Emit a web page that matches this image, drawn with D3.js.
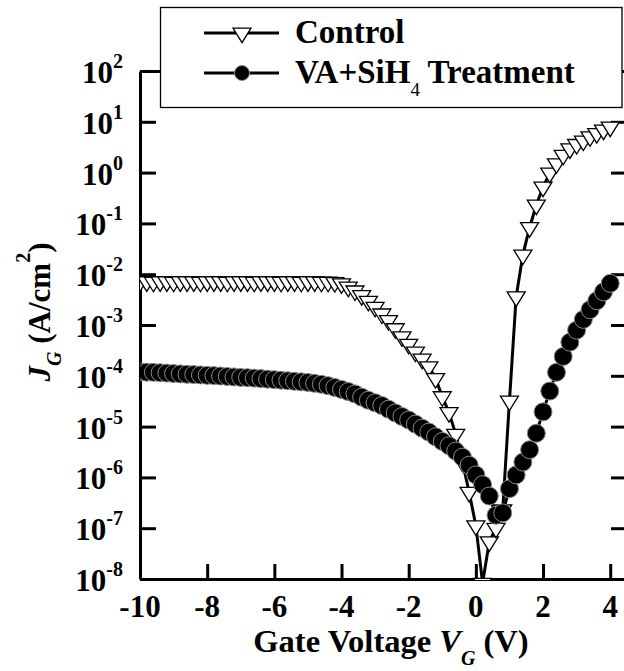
<!DOCTYPE html>
<html>
<head>
<meta charset="utf-8">
<script src="https://cdn.jsdelivr.net/npm/d3@7"></script>
<style>
  body { margin: 0; background: #fff; }
  svg text { font-family: "Liberation Serif", "Tinos", "Times New Roman", Times, serif; font-weight: bold; fill: #000; }
</style>
</head>
<body>
<svg id="chart" width="624" height="671"></svg>
<script>
// Gate voltage sweep (V)
const voltage = [
  -10, -9.8, -9.6, -9.4, -9.2, -9, -8.8, -8.6, -8.4, -8.2,
  -8, -7.8, -7.6, -7.4, -7.2, -7, -6.8, -6.6, -6.4, -6.2,
  -6, -5.8, -5.6, -5.4, -5.2, -5, -4.8, -4.6, -4.4, -4.2,
  -4, -3.8, -3.6, -3.4, -3.2, -3, -2.8, -2.6, -2.4, -2.2,
  -2, -1.8, -1.6, -1.4, -1.2, -1, -0.8, -0.6, -0.4, -0.2,
  0, 0.2, 0.4, 0.6, 0.8, 1, 1.2, 1.4, 1.6, 1.8,
  2, 2.2, 2.4, 2.6, 2.8, 3, 3.2, 3.4, 3.6, 3.8, 4
];

// Gate leakage current density (A/cm^2), control sample
const controlJ = [
  7.1e-3, 7.1e-3, 7.0e-3, 7.1e-3, 7.1e-3, 7.0e-3, 7.1e-3, 7.1e-3, 7.1e-3, 7.0e-3,
  7.1e-3, 7.1e-3, 7.1e-3, 7.0e-3, 7.1e-3, 7.1e-3, 7.1e-3, 7.0e-3, 7.1e-3, 7.1e-3,
  7.1e-3, 7.0e-3, 7.1e-3, 7.1e-3, 7.0e-3, 7.1e-3, 7.1e-3, 7.0e-3, 7.0e-3, 6.9e-3,
  6.5e-3, 5.6e-3, 4.7e-3, 3.8e-3, 2.95e-3, 2.24e-3, 1.66e-3, 1.23e-3, 8.5e-4, 5.9e-4,
  4.2e-4, 2.95e-4, 2.14e-4, 1.51e-4, 8.9e-5, 3.9e-5, 1.9e-5, 7.1e-6, 2.0e-6, 5.1e-7,
  1.12e-7, 8.3e-9, 5.4e-8, 1.0e-7, 2.3e-7, 3.2e-5, 3.6e-3, 2.4e-2, 8.3e-2, 0.23,
  0.52, 0.98, 1.5, 2.2, 2.95, 3.6, 4.2, 5.1, 5.9, 6.9, 7.9
];

// Gate leakage current density (A/cm^2), VA + SiH4 treated sample
const treatedJ = [
  1.20e-4, 1.18e-4, 1.17e-4, 1.15e-4, 1.13e-4, 1.11e-4, 1.09e-4, 1.07e-4, 1.06e-4, 1.04e-4,
  1.02e-4, 1.01e-4, 9.9e-5, 9.7e-5, 9.5e-5, 9.3e-5, 9.2e-5, 9.0e-5, 8.8e-5, 8.6e-5,
  8.4e-5, 8.2e-5, 8.0e-5, 7.8e-5, 7.6e-5, 7.4e-5, 7.1e-5, 6.8e-5, 6.4e-5, 5.9e-5,
  5.4e-5, 4.9e-5, 4.4e-5, 3.8e-5, 3.3e-5, 2.95e-5, 2.6e-5, 2.2e-5, 1.86e-5, 1.58e-5,
  1.35e-5, 1.12e-5, 9.3e-6, 7.8e-6, 6.3e-6, 5.1e-6, 4.2e-6, 3.3e-6, 2.5e-6, 1.74e-6,
  1.12e-6, 7.2e-7, 4.3e-7, 1.8e-7, 2.0e-7, 6.0e-7, 1.12e-6, 2.0e-6, 3.5e-6, 7.4e-6,
  1.95e-5, 5.0e-5, 1.17e-4, 2.4e-4, 4.6e-4, 7.9e-4, 1.29e-3, 2.0e-3, 3.0e-3, 4.5e-3, 6.6e-3
];

// Axis ticks
const xTicks = [-10, -8, -6, -4, -2, 0, 2, 4];
const xTickLabels = ["-10", "-8", "-6", "-4", "-2", "0", "2", "4"];
const yTicks = [1e-8, 1e-7, 1e-6, 1e-5, 1e-4, 1e-3, 1e-2, 1e-1, 1e0, 1e1, 1e2];
const yTickExponents = ["-8", "-7", "-6", "-5", "-4", "-3", "-2", "-1", "0", "1", "2"];

const svg = d3.select("#chart");
const plot = { left: 140, right: 627, top: 71, bottom: 579 };

const x = d3.scaleLinear().domain([-10, 4.5]).range([plot.left, plot.right]);
const y = d3.scaleLog().domain([1e-8, 1e2]).range([plot.bottom, plot.top]);

// Frame with inward ticks
function styleAxis(g) {
  g.select(".domain").attr("stroke", "#000").attr("stroke-width", 3);
  g.selectAll(".tick line").attr("stroke", "#000").attr("stroke-width", 3);
}
svg.append("g").attr("transform", `translate(0,${plot.bottom})`)
  .call(d3.axisBottom(x).tickValues(xTicks.slice(1)).tickSize(-15).tickSizeOuter(0).tickFormat(""))
  .call(styleAxis);
svg.append("g").attr("transform", `translate(0,${plot.top})`)
  .call(d3.axisTop(x).tickValues([]).tickSizeOuter(0))
  .call(styleAxis);
svg.append("g").attr("transform", `translate(${plot.left},0)`)
  .call(d3.axisLeft(y).tickValues(yTicks).tickSize(-16).tickSizeOuter(0).tickFormat(""))
  .call(styleAxis);
svg.append("g").attr("transform", `translate(${plot.right},0)`)
  .call(d3.axisRight(y).tickValues(yTicks).tickSize(-16).tickSizeOuter(0).tickFormat(""))
  .call(styleAxis);

// Tick labels
const yLab = svg.append("g").selectAll("text").data(yTicks).join("text")
  .attr("x", 123).attr("y", d => y(d) + 12)
  .attr("text-anchor", "end").style("font-size", "31px");
yLab.append("tspan").text("10");
yLab.append("tspan").attr("dy", -15).style("font-size", "20px")
  .text((d, i) => yTickExponents[i]);

svg.append("g").selectAll("text").data(xTicks).join("text")
  .attr("x", d => x(d)).attr("y", 617)
  .attr("text-anchor", "middle").style("font-size", "31px")
  .text((d, i) => xTickLabels[i]);

// Axis titles
const xt = svg.append("text").attr("x", 391).attr("y", 652)
  .attr("text-anchor", "middle").style("font-size", "32.5px");
xt.append("tspan").text("Gate Voltage ");
xt.append("tspan").style("font-style", "italic").text("V");
xt.append("tspan").style("font-style", "italic").style("font-size", "20px").attr("dy", 13).text("G");
xt.append("tspan").attr("dy", -13).text(" (V)");

const yt = svg.append("text").attr("transform", "translate(50,312) rotate(-90)")
  .attr("text-anchor", "middle").style("font-size", "31px");
yt.append("tspan").style("font-style", "italic").text("J");
yt.append("tspan").style("font-style", "italic").style("font-size", "20px").attr("dy", 11).text("G");
yt.append("tspan").attr("dy", -11).text(" (A/cm");
yt.append("tspan").style("font-size", "20px").attr("dy", -20).text("2");
yt.append("tspan").attr("dy", 20).text(")");

// Data
svg.append("clipPath").attr("id", "plot-clip").append("rect")
  .attr("x", plot.left).attr("y", plot.top)
  .attr("width", plot.right - plot.left).attr("height", plot.bottom - plot.top + 1);
const data = svg.append("g").attr("clip-path", "url(#plot-clip)");

const triW = 18, triH = 14.5;
const triPath = `M0,${triH * 2 / 3}L${-triW / 2},${-triH / 3}L${triW / 2},${-triH / 3}Z`;
const line = d3.line().x(d => x(d[0])).y(d => y(d[1]));

const controlPts = voltage.map((v, i) => [v, controlJ[i]]);
const treatedPts = voltage.map((v, i) => [v, treatedJ[i]]);

data.append("path").datum(controlPts).attr("d", line)
  .attr("fill", "none").attr("stroke", "#000").attr("stroke-width", 3);
data.append("g").selectAll("path").data(controlPts).join("path")
  .attr("transform", d => `translate(${x(d[0])},${y(d[1])})`)
  .attr("d", triPath).attr("fill", "#fff").attr("stroke", "#000").attr("stroke-width", 1.3);

data.append("path").datum(treatedPts).attr("d", line)
  .attr("fill", "none").attr("stroke", "#000").attr("stroke-width", 3);
data.append("g").selectAll("circle").data(treatedPts).join("circle")
  .attr("cx", d => x(d[0])).attr("cy", d => y(d[1])).attr("r", 9)
  .attr("fill", "#000").attr("stroke", "#8a8a8a").attr("stroke-width", 1);

// Legend
const legend = svg.append("g");
legend.append("rect").attr("x", 160.5).attr("y", 7.5).attr("width", 461.5).attr("height", 100)
  .attr("fill", "#fff").attr("stroke", "#000").attr("stroke-width", 1.3);
[33, 73].forEach(yy => {
  legend.append("line").attr("x1", 204).attr("x2", 279).attr("y1", yy).attr("y2", yy)
    .attr("stroke", "#000").attr("stroke-width", 3);
});
legend.append("path").attr("transform", "translate(242,33)").attr("d", triPath)
  .attr("fill", "#fff").attr("stroke", "#000").attr("stroke-width", 1.3);
legend.append("circle").attr("cx", 242).attr("cy", 73).attr("r", 7.5)
  .attr("fill", "#000").attr("stroke", "#8a8a8a").attr("stroke-width", 1);
legend.append("text").attr("x", 295).attr("y", 43).style("font-size", "33px").text("Control");
const lt = legend.append("text").attr("x", 295).attr("y", 83).style("font-size", "33px");
lt.append("tspan").text("VA+SiH");
lt.append("tspan").style("font-size", "19px").style("font-weight", "normal").attr("dy", 13).text("4");
lt.append("tspan").attr("dy", -13).text(" Treatment");
</script>
</body>
</html>
